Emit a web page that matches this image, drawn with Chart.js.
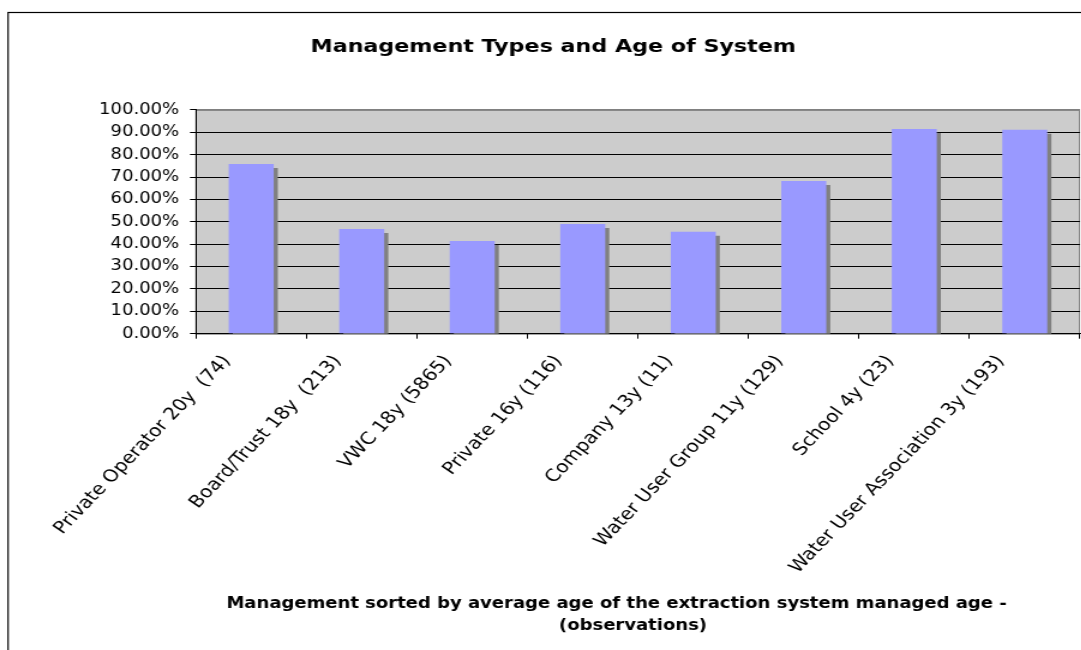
<!DOCTYPE html>
<html>
<head>
<meta charset="utf-8">
<script src="https://cdn.jsdelivr.net/npm/chart.js@4.4.1/dist/chart.umd.min.js"></script>
<style>
  html, body { margin: 0; padding: 0; background: #ffffff; overflow: hidden; }
  /* the chart is laid out on a narrower canvas and widened horizontally */
  #wrap { width: 922px; height: 650px; transform: scaleX(1.2); transform-origin: 0 0; }
  canvas { display: block; }
</style>
</head>
<body>
<div id="wrap"><canvas id="chart" width="922" height="650"></canvas></div>
<script>
// Management type, average system age and number of observations
const categories = [
  'Private Operator 20y  (74)',
  'Board/Trust 18y  (213)',
  'VWC 18y (5865)',
  'Private 16y (116)',
  'Company 13y (11)',
  'Water User Group 11y (129)',
  'School 4y (23)',
  'Water User Association 3y (193)'
];

// Share per management type, in percent
const shareValues = [75.8, 46.8, 41.4, 49.0, 45.5, 68.2, 91.5, 91.1];

// Value-axis ticks, in percent
const yTickValues = [0, 10, 20, 30, 40, 50, 60, 70, 80, 90, 100];

const chartTitle = 'Management Types and Age of System';
const xAxisTitle = [
  'Management sorted by average age of the extraction system managed age -',
  '(observations)'
];

const FONT = '"DejaVu Sans", Verdana, sans-serif';

// Outer frame and grey plot background
const framePlugin = {
  id: 'framePlugin',
  beforeDraw(chart) {
    const { ctx, chartArea: a } = chart;
    ctx.save();
    ctx.strokeStyle = '#000000';
    ctx.lineWidth = 1.2;
    ctx.strokeRect(6.7, 12.5, 3000, 3000);
    ctx.fillStyle = '#cccccc';
    ctx.fillRect(a.left, a.top, a.right - a.left, a.bottom - a.top);
    ctx.strokeStyle = '#808080';
    ctx.lineWidth = 1;
    ctx.strokeRect(a.left, a.top + 0.5, a.right - a.left - 0.5, a.bottom - a.top);
    ctx.restore();
  }
};

// Hard grey drop shadow behind each bar
const barShadowPlugin = {
  id: 'barShadowPlugin',
  beforeDatasetDraw(chart) {
    const ctx = chart.ctx;
    ctx.save();
    ctx.shadowColor = '#808080';
    ctx.shadowOffsetX = 3.4;
    ctx.shadowOffsetY = 4;
    ctx.shadowBlur = 0;
  },
  afterDatasetDraw(chart) {
    chart.ctx.restore();
  }
};

// Two-line category-axis title
const xTitlePlugin = {
  id: 'xTitlePlugin',
  afterDraw(chart) {
    const ctx = chart.ctx;
    ctx.save();
    ctx.fillStyle = '#000000';
    ctx.font = 'bold 15px ' + FONT;
    ctx.textAlign = 'center';
    ctx.textBaseline = 'alphabetic';
    ctx.fillText(xAxisTitle[0], 513.8, 608);
    ctx.fillText(xAxisTitle[1], 527.5, 630);
    ctx.restore();
  }
};

new Chart(document.getElementById('chart'), {
  type: 'bar',
  data: {
    labels: categories,
    datasets: [{
      data: shareValues,
      backgroundColor: '#9999ff',
      borderWidth: 0,
      categoryPercentage: 1,
      barPercentage: 0.407,
      clip: 0
    }]
  },
  options: {
    responsive: false,
    animation: false,
    devicePixelRatio: 1,
    layout: { padding: 0 },
    plugins: {
      legend: { display: false },
      tooltip: { enabled: false },
      title: {
        display: true,
        text: chartTitle,
        color: '#000000',
        font: { family: FONT, size: 18.5, weight: 'bold' },
        padding: { top: 36, bottom: 51.7 }
      }
    },
    scales: {
      x: {
        grid: {
          offset: true,
          drawOnChartArea: false,
          drawTicks: true,
          tickLength: 5,
          color: '#000000'
        },
        border: { display: true, color: '#000000', width: 1 },
        ticks: {
          color: '#000000',
          font: { family: FONT, size: 17 },
          minRotation: 51,
          maxRotation: 51,
          autoSkip: false,
          padding: 13,
          labelOffset: -20
        },
        afterFit(scale) { scale.height = 316.3; }
      },
      y: {
        min: 0,
        max: 100,
        afterBuildTicks(scale) { scale.ticks = yTickValues.map(v => ({ value: v })); },
        grid: {
          color: ctx => (ctx.tick && ctx.tick.value === 100 ? '#808080' : '#000000'),
          tickColor: '#000000',
          tickLength: 5,
          drawTicks: true
        },
        border: { display: true, color: '#000000', width: 1 },
        ticks: {
          color: '#000000',
          font: { family: FONT, size: 15 },
          padding: 9,
          callback: v => v.toFixed(2) + '%'
        },
        afterFit(scale) { scale.width = 163.3; }
      },
      // empty strip on the right; the frame continues past the visible edge
      yRight: {
        position: 'right',
        display: true,
        grid: { display: false, drawTicks: false },
        border: { display: false },
        ticks: { display: false },
        afterFit(scale) { scale.width = 22; }
      }
    }
  },
  plugins: [framePlugin, barShadowPlugin, xTitlePlugin]
});
</script>
</body>
</html>
